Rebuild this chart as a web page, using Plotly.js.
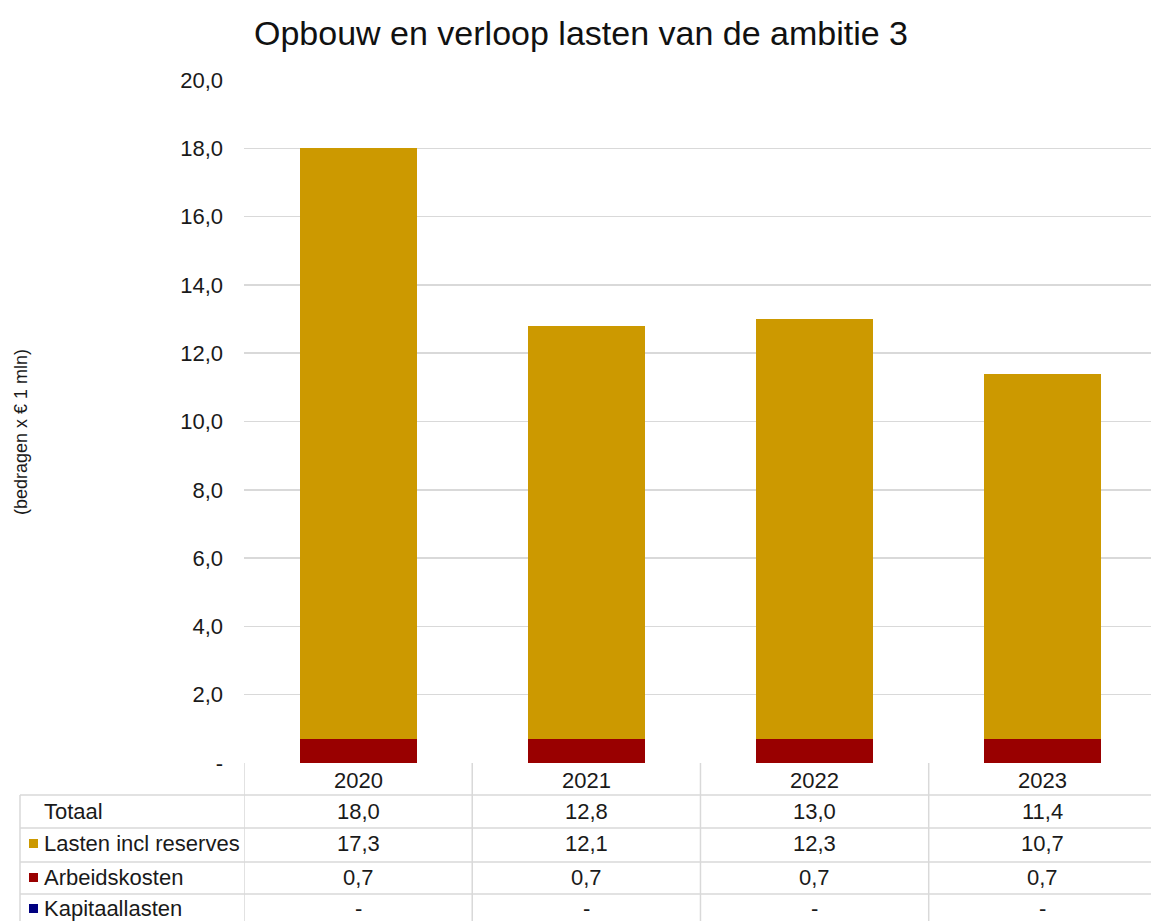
<!DOCTYPE html>
<html>
<head>
<meta charset="utf-8">
<script src="https://cdn.plot.ly/plotly-3.0.1.min.js"></script>
<style>html,body{margin:0;padding:0;background:#fff;}#chart{width:1151px;height:921px;}</style>
</head>
<body>
<div id="chart"></div>
<script>
// ---- data ----
var years = ['2020', '2021', '2022', '2023'];
var lastenInclReserves = [17.3, 12.1, 12.3, 10.7];
var arbeidskosten = [0.7, 0.7, 0.7, 0.7];
var kapitaallasten = [0, 0, 0, 0];
var totaal = [18.0, 12.8, 13.0, 11.4];
var rowLabels = ['Totaal', 'Lasten incl reserves', 'Arbeidskosten', 'Kapitaallasten'];
var yTickVals = [0, 2, 4, 6, 8, 10, 12, 14, 16, 18, 20];

// ---- styling ----
var FONT = '"Liberation Sans", Arial, sans-serif';
var C_LASTEN = '#CC9900', C_ARBEID = '#990000', C_KAPITAAL = '#000080';
var GRID = '#d9d9d9';
var W = 1151, H = 921, L = 244, T = 80, B = 763;
var PW = W - L, PH = B - T;
function px(x) { return (x - L) / PW; }
function py(y) { return (B - y) / PH; }
function fmt(v) { return v === 0 ? '-' : v.toFixed(1).replace('.', ','); }

var traces = [
  { type: 'bar', name: 'Kapitaallasten', x: years, y: kapitaallasten, marker: { color: C_KAPITAAL }, hoverinfo: 'skip' },
  { type: 'bar', name: 'Arbeidskosten', x: years, y: arbeidskosten, marker: { color: C_ARBEID }, hoverinfo: 'skip' },
  { type: 'bar', name: 'Lasten incl reserves', x: years, y: lastenInclReserves, marker: { color: C_LASTEN }, hoverinfo: 'skip' }
];

var shapes = [], annotations = [];
var lineStyle = { color: GRID, width: 1.5 };

// horizontal table lines
[795, 828, 862, 894].forEach(function (yy) {
  shapes.push({ type: 'line', xref: 'paper', yref: 'paper', x0: px(20), x1: 1, y0: py(yy), y1: py(yy), line: lineStyle });
});
// vertical table lines at category boundaries
for (var i = 0; i < years.length; i++) {
  shapes.push({ type: 'line', xref: 'x', yref: 'paper', x0: i - 0.5, x1: i - 0.5, y0: 0, y1: py(921), line: lineStyle });
}
// left edge of label column
shapes.push({ type: 'line', xref: 'paper', yref: 'paper', x0: px(20), x1: px(20), y0: py(795), y1: py(921), line: lineStyle });

var tf = { family: FONT, size: 22, color: '#1a1a1a' };
var rowY = [811, 843, 877, 908];
var rowData = [totaal, lastenInclReserves, arbeidskosten, kapitaallasten];
var keyColors = [null, C_LASTEN, C_ARBEID, C_KAPITAAL];

// header years (category index positions on the x axis)
years.forEach(function (yr, c) {
  annotations.push({ xref: 'x', yref: 'paper', x: c, y: py(780), text: yr, showarrow: false, xanchor: 'center', yanchor: 'middle', font: tf });
});
// rows
rowLabels.forEach(function (lab, r) {
  annotations.push({ xref: 'paper', yref: 'paper', x: px(42), y: py(rowY[r]), text: lab, showarrow: false, xanchor: 'left', yanchor: 'middle', font: tf });
  if (keyColors[r]) {
    shapes.push({ type: 'rect', xref: 'paper', yref: 'paper', x0: px(29), x1: px(38), y0: py(rowY[r] - 4), y1: py(rowY[r] + 5), fillcolor: keyColors[r], line: { width: 0 } });
  }
  years.forEach(function (yr, c) {
    annotations.push({ xref: 'x', yref: 'paper', x: c, y: py(rowY[r]), text: fmt(rowData[r][c]), showarrow: false, xanchor: 'center', yanchor: 'middle', font: tf });
  });
});
// y-axis title
annotations.push({ xref: 'paper', yref: 'paper', x: px(21), y: py(432), text: '(bedragen x € 1 mln)', textangle: -90, showarrow: false, xanchor: 'center', yanchor: 'middle', font: { family: FONT, size: 18, color: '#1a1a1a' } });

var layout = {
  width: W, height: H,
  margin: { l: L, r: 0, t: T, b: H - B, pad: 0 },
  paper_bgcolor: '#fff', plot_bgcolor: '#fff',
  barmode: 'stack', bargap: 0.487,
  showlegend: false,
  title: { text: 'Opbouw en verloop lasten van de ambitie 3', font: { family: FONT, size: 34, color: '#111' }, xref: 'container', x: 581 / W, xanchor: 'center', yref: 'container', y: 1 - 33 / H, yanchor: 'middle' },
  xaxis: { type: 'category', range: [-0.5, 3.474], showticklabels: false, showgrid: false, zeroline: false, showline: false, ticks: '', fixedrange: true },
  yaxis: { range: [0, 20], tickvals: yTickVals, ticktext: yTickVals.map(fmt), showgrid: true, gridcolor: GRID, gridwidth: 1.5, zeroline: false, showline: false, ticks: '', ticklabelstandoff: 20, tickfont: { family: FONT, size: 22, color: '#1a1a1a' }, fixedrange: true },
  shapes: shapes,
  annotations: annotations
};

Plotly.newPlot('chart', traces, layout, { displayModeBar: false, staticPlot: true });
</script>
</body>
</html>
